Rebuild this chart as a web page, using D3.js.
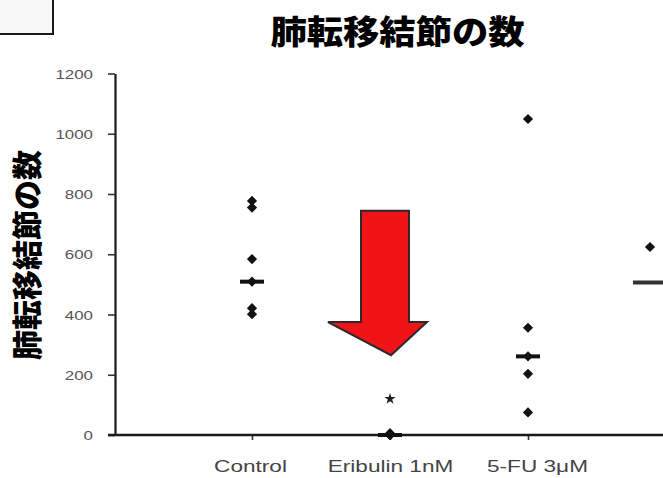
<!DOCTYPE html>
<html><head><meta charset="utf-8">
<script src="https://cdn.jsdelivr.net/npm/d3@7"></script>
<style>
html,body{margin:0;padding:0;background:#fff;overflow:hidden;}
svg{display:block;}
</style></head>
<body>
<script>
// ---- data ----
const categories = ["Control", "Eribulin 1nM", "5-FU 3μM", ""];
const controlValues = [777, 755, 584, 509, 421, 401];
const eribulinValues = [6, 0, 0, 0];
const fuValues = [1049, 356, 261, 203, 75];
const group4Values = [624];
const medianValues = [509, 0, 261, 506];
const starCategory = ["Eribulin 1nM"];
const starValue = [120];
const yTicks = [0, 200, 400, 600, 800, 1000, 1200];
const titleText = "肺転移結節の数";
const yTitleText = "肺転移結節の数";
// arrow annotation (data units): top, head base, tip
const arrowValues = [744, 375, 265];

const seriesValues = [controlValues, eribulinValues, fuValues, group4Values];

const W = 663, H = 478;
const svg = d3.select("body").append("svg").attr("width", W).attr("height", H);

const axisLeftX = 115, axisRightX = 663;
const y = d3.scaleLinear().domain([0, 1200]).range([435, 73.5]);
const x = d3.scalePoint().domain(categories).range([252, 666]);

// top-left box
svg.append("rect").attr("x", -3).attr("y", -3).attr("width", 56).attr("height", 37)
  .attr("fill", "#f8f8f8").attr("stroke", "#1a1a1a").attr("stroke-width", 2);

// title
svg.append("text").attr("x", 0).attr("y", 0)
  .attr("transform", "translate(397.5,44) scale(1.1,1)")
  .attr("text-anchor", "middle")
  .attr("font-family", "'Noto Sans CJK JP','Noto Sans CJK SC',sans-serif")
  .attr("font-weight", 900).attr("font-size", 33).attr("fill", "#000")
  .text(titleText);

// y title
svg.append("text")
  .attr("transform", "translate(38,255) rotate(-90)")
  .attr("text-anchor", "middle")
  .attr("font-family", "'Noto Sans CJK JP','Noto Sans CJK SC',sans-serif")
  .attr("font-weight", 900).attr("font-size", 30).attr("fill", "#000")
  .text(yTitleText);

// y axis
const yAxis = d3.axisLeft(y).tickValues(yTicks).tickSize(7).tickSizeOuter(0).tickPadding(0).tickFormat(d3.format("d"));
const gy = svg.append("g").attr("transform", `translate(${axisLeftX},0)`).call(yAxis);
gy.select(".domain").attr("stroke", "#1a1a1a").attr("stroke-width", 2.2);
gy.selectAll(".tick line").attr("stroke", "#333").attr("stroke-width", 1.6);
gy.selectAll(".tick text").remove();
gy.selectAll(".tick").append("text")
  .attr("transform", "translate(-22,4.5) scale(1.3,1)")
  .attr("text-anchor", "end")
  .attr("font-family", "'Liberation Sans',Arial,sans-serif")
  .attr("font-size", 13).attr("fill", "#555")
  .text(d => d3.format("d")(d));

// x axis
const xAxis = d3.axisBottom(x).tickSize(5).tickSizeOuter(0).tickFormat("");
const gx = svg.append("g").attr("transform", `translate(0,${y(0)})`).call(xAxis);
gx.select(".domain").remove();
gx.append("line").attr("x1", axisLeftX - 7).attr("x2", axisRightX + 5).attr("y1", 0).attr("y2", 0)
  .attr("stroke", "#1a1a1a").attr("stroke-width", 2.6);
gx.selectAll(".tick line").attr("stroke", "#333").attr("stroke-width", 1.6);
gx.selectAll(".tick").filter(d => d !== "").append("text")
  .attr("transform", (d, i) => `translate(${i === 2 ? 9 : (i === 0 ? -2 : 0)},37) scale(1.33,1)`)
  .attr("text-anchor", "middle")
  .attr("font-family", "'Liberation Sans',Arial,sans-serif")
  .attr("font-size", 17).attr("fill", "#444")
  .text(d => d);

// points
const diamond = d3.symbol().type(d3.symbolSquare).size(52);
const dxFor = i => (i === 3 ? -16 : 0);
const halfFor = i => (i === 3 ? 33 : 12);
seriesValues.forEach((vals, i) => {
  const cx = x(categories[i]) + dxFor(i);
  svg.append("g").selectAll("path").data(vals).join("path")
    .attr("d", diamond)
    .attr("transform", d => `translate(${cx},${y(d)}) rotate(45)`)
    .attr("fill", "#111");
});
// medians
svg.append("g").selectAll("line").data(medianValues).join("line")
  .attr("x1", (d, i) => x(categories[i]) - halfFor(i))
  .attr("x2", (d, i) => x(categories[i]) + halfFor(i))
  .attr("y1", d => y(d)).attr("y2", d => y(d))
  .attr("stroke", (d, i) => i === 3 ? "#333" : "#111").attr("stroke-width", 4);

// star marker
svg.append("g").selectAll("path").data(starValue).join("path")
  .attr("d", d3.symbol().type(d3.symbolStar).size(40))
  .attr("transform", (d, i) => `translate(${x(starCategory[i])},${y(d)})`)
  .attr("fill", "#222");

// red arrow
const ax = x("Eribulin 1nM");
const [aTop, aBase, aTip] = arrowValues.map(v => y(v));
const pts = [
  [ax - 29, aTop], [ax + 19, aTop], [ax + 19, aBase], [ax + 37, aBase],
  [ax + 1, aTip], [ax - 62, aBase], [ax - 29, aBase]
];
svg.append("path")
  .attr("d", d3.line()(pts) + "Z")
  .attr("fill", "#f01418").attr("stroke", "#2a2a2a").attr("stroke-width", 2)
  .attr("stroke-linejoin", "miter");
</script>
</body></html>
